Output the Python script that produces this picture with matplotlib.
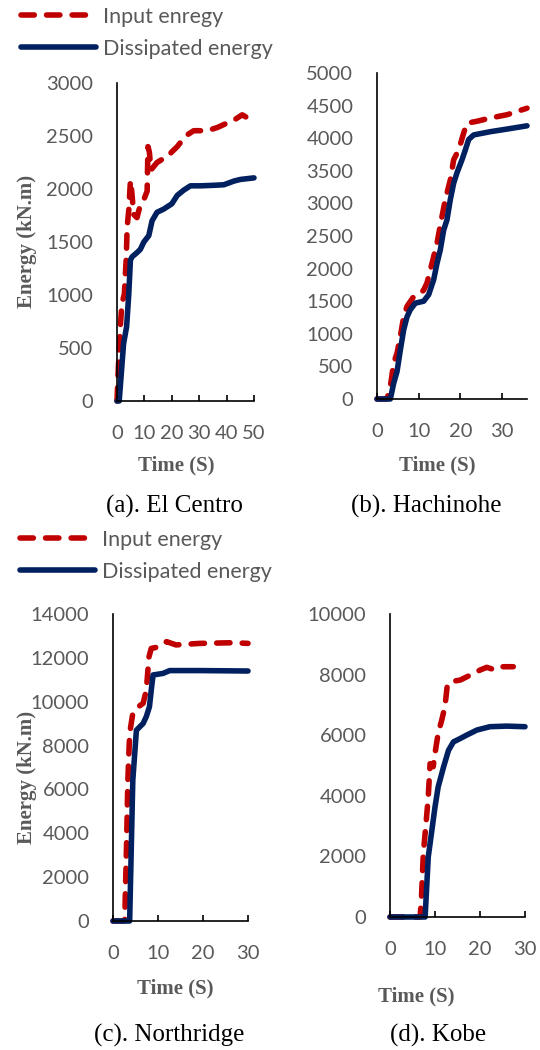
import numpy as np
import matplotlib
matplotlib.use('Agg')
import matplotlib.pyplot as plt

# (a) El Centro
t_in_a = [0, 0.6, 1.2, 1.8, 2.7, 3.0, 3.4, 3.7, 4.3, 4.9, 5.3, 6.1, 7.3, 8.5, 9.8, 11.0, 11.3, 11.8, 12.4, 14.6, 16.5, 18.3, 20, 22, 25, 28, 33, 36.6, 40, 42.7, 45.7, 47]
e_in_a = [0, 380, 700, 920, 1010, 1170, 1360, 1640, 1800, 2080, 2000, 1760, 1730, 1850, 1900, 1980, 2400, 2350, 2180, 2250, 2280, 2300, 2350, 2400, 2500, 2550, 2550, 2580, 2620, 2650, 2700, 2680]
t_dis_a = [0, 0.8, 2.4, 3.5, 4.3, 4.9, 5.5, 7.3, 8.5, 9.8, 11.6, 12.8, 14.6, 17, 20, 22, 24.4, 26.8, 30.5, 35.4, 39, 42.7, 45, 50]
e_dis_a = [0, 0, 540, 700, 1010, 1330, 1360, 1400, 1430, 1500, 1560, 1700, 1780, 1810, 1860, 1940, 1990, 2030, 2030, 2035, 2040, 2075, 2090, 2105]

# (b) Hachinohe
t_in_b = [0, 2.4, 3.2, 4, 4.8, 5.6, 6.4, 7.2, 8.8, 10, 11.2, 12, 13.2, 14.4, 15.6, 16.4, 17.6, 18.4, 19.6, 20.8, 21.6, 24, 27.2, 31.2, 36]
e_in_b = [0, 0, 190, 550, 700, 960, 1260, 1420, 1570, 1600, 1670, 1780, 2080, 2390, 2800, 3060, 3360, 3670, 3820, 4080, 4230, 4260, 4310, 4360, 4460]
t_dis_b = [0, 3.2, 4, 4.8, 5.6, 6.4, 7.2, 8, 9.2, 11.2, 12.4, 13.6, 14.4, 15.2, 16, 16.8, 17.6, 18.4, 19.2, 20.4, 21.2, 22, 23.2, 27.2, 31.2, 36]
e_dis_b = [0, 0, 240, 420, 750, 1060, 1260, 1370, 1470, 1500, 1600, 1830, 2080, 2290, 2590, 2750, 3060, 3310, 3470, 3670, 3820, 3980, 4050, 4100, 4140, 4190]

# (c) Northridge
t_in_c = [0, 2.6, 3.0, 3.3, 3.7, 4.4, 5.2, 6.7, 7.4, 8.0, 8.5, 10.4, 11.9, 14, 19.3, 26.7, 30]
e_in_c = [0, 0, 3380, 6420, 8550, 9470, 9700, 9930, 10530, 12050, 12430, 12510, 12740, 12590, 12660, 12690, 12660]
t_dis_c = [0, 3.7, 4.4, 5.2, 6.7, 7.4, 8.1, 8.5, 8.9, 11.1, 12.6, 19.3, 30]
e_dis_c = [0, 0, 6420, 8700, 9010, 9320, 9770, 10530, 11220, 11290, 11420, 11420, 11400]

# (d) Kobe
t_in_d = [0, 6.7, 7.0, 7.4, 8.0, 8.5, 8.9, 9.6, 10, 10.7, 11.5, 12.2, 12.7, 13.3, 15.6, 17.8, 20, 21.5, 23, 24.4, 27.4]
e_in_d = [0, 0, 660, 2090, 3080, 3960, 5060, 4960, 5400, 6060, 6500, 6940, 7600, 7760, 7820, 7980, 8150, 8240, 8170, 8260, 8260]
t_dis_d = [0, 7.8, 8.5, 9.3, 10, 10.7, 11.9, 13, 14.1, 15.6, 17, 19.3, 22.2, 25.9, 30]
e_dis_d = [0, 0, 1980, 2860, 3630, 4290, 4950, 5500, 5780, 5890, 6000, 6170, 6280, 6300, 6280]

captions = ['(a). El Centro', '(b). Hachinohe', '(c). Northridge', '(d). Kobe']
xmax = [50, 36, 30, 30]
ymax = [3000, 5000, 14000, 10000]
ystep = [500, 500, 2000, 2000]

RED = '#C00000'
NAVY = '#002060'
GRAY = '#595959'
W, H = 540, 1050

def fx(x):
    return x / W

def fy(y):
    return 1 - y / H

fig = plt.figure(figsize=(5.4, 10.5), dpi=100)

# axes boxes in pixels: left, top, right, bottom
boxes = [(117, 83, 254, 401), (377, 73, 527, 399), (113, 614, 248, 921), (390, 614, 525, 917)]
data = [(t_in_a, e_in_a, t_dis_a, e_dis_a), (t_in_b, e_in_b, t_dis_b, e_dis_b),
        (t_in_c, e_in_c, t_dis_c, e_dis_c), (t_in_d, e_in_d, t_dis_d, e_dis_d)]

axes = []
for i, (l, t, r, b) in enumerate(boxes):
    ax = fig.add_axes([fx(l), fy(b), fx(r - l), (b - t) / H])
    ti, ei, td, ed = data[i]
    ax.plot(ti, ei, color=RED, lw=4.0, dashes=(2.4, 2.2), dash_capstyle='round',
            solid_joinstyle='round', clip_on=False, label='Input')
    ax.plot(td, ed, color=NAVY, lw=4.0, solid_capstyle='round',
            solid_joinstyle='round', clip_on=False, label='Dissipated')
    ax.set_xlim(0, xmax[i])
    ax.set_ylim(0, ymax[i])
    ax.set_xticks(np.arange(0, xmax[i] + 1, 10))
    ax.set_yticks(np.arange(0, ymax[i] + 1, ystep[i]))
    ax.set_yticks([ymax[i]], minor=True)
    for s in ['top', 'right']:
        ax.spines[s].set_visible(False)
    for s in ['left', 'bottom']:
        ax.spines[s].set_linewidth(1.2)
        ax.spines[s].set_color('black')
    ax.tick_params(axis='x', direction='in', length=4.5, width=1.2, pad=17,
                   labelsize=14.5, labelcolor=GRAY)
    ax.tick_params(axis='y', which='major', length=0, pad=17, labelsize=14.5, labelcolor=GRAY)
    ax.tick_params(axis='y', which='minor', direction='in', length=4.5, width=1.2)
    for lab in ax.get_xticklabels() + ax.get_yticklabels():
        lab.set_fontfamily('Lato')
    ax.patch.set_alpha(0)
    axes.append(ax)

# axis titles
lab_font = dict(family='Liberation Serif', weight='bold', color=GRAY, fontsize=15)
fig.text(fx(27), fy(241), 'Energy (kN.m)', rotation=90, ha='center', va='center', **lab_font)
fig.text(fx(27), fy(777), 'Energy (kN.m)', rotation=90, ha='center', va='center', **lab_font)
time_pos = [(176, 465), (437, 465), (175, 988), (416, 996)]
for (x, y) in time_pos:
    fig.text(fx(x), fy(y), 'Time (S)', ha='center', va='center', **lab_font)

cap_pos = [(174, 506), (426, 506), (169, 1035), (438, 1035)]
for (x, y), c in zip(cap_pos, captions):
    fig.text(fx(x), fy(y), c, ha='center', va='center', family='Liberation Serif',
             fontsize=18, color='black')

# legends
leg_kw = dict(loc='upper left', frameon=False, borderpad=0, borderaxespad=0,
              handlelength=3.5, handletextpad=0.3, labelspacing=0.55,
              prop=dict(family='Lato', size=15.5), labelcolor=GRAY)
h = axes[0].get_lines()
fig.legend(h, ['Input enregy', 'Dissipated energy'], bbox_to_anchor=(fx(21), fy(7)), **leg_kw)
h = axes[2].get_lines()
fig.legend(h, ['Input energy', 'Dissipated energy'], bbox_to_anchor=(fx(20), fy(530)), **leg_kw)

fig.savefig('out.png', dpi=100)
